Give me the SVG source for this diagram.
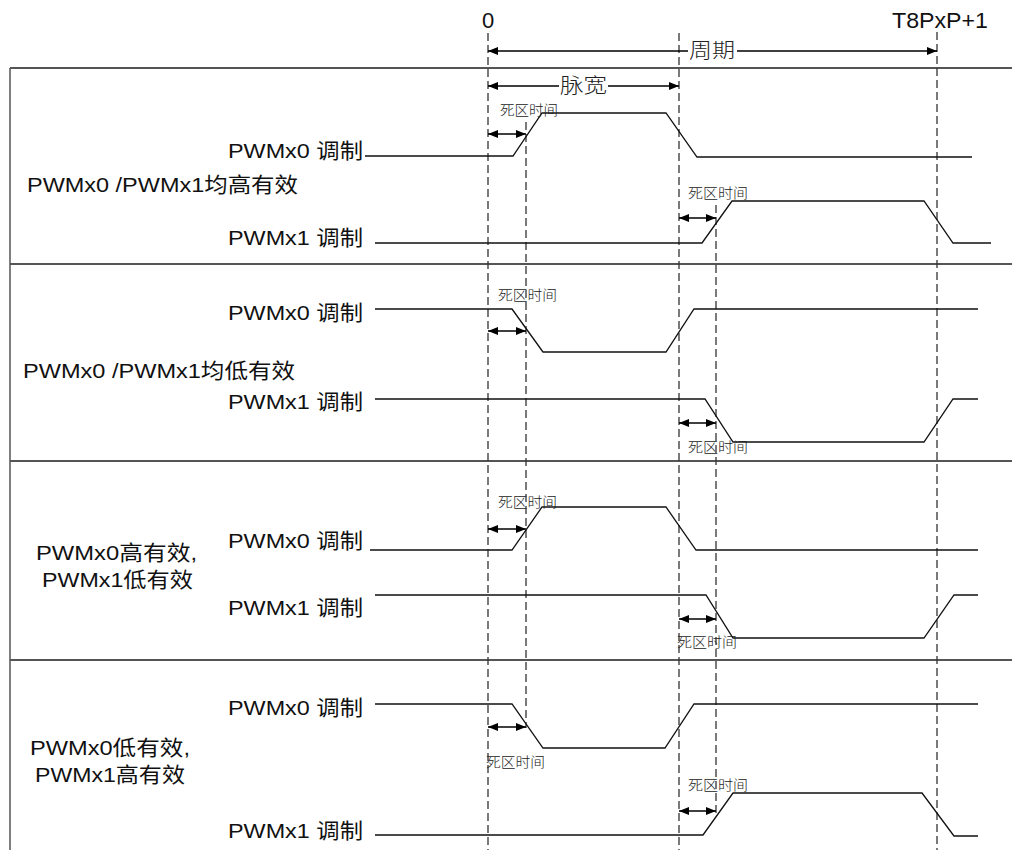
<svg xmlns="http://www.w3.org/2000/svg" width="1012" height="850" viewBox="0 0 1012 850">
<defs>
<marker id="ah" viewBox="0 0 10 8" refX="10" refY="4" markerWidth="10" markerHeight="8" markerUnits="userSpaceOnUse" orient="auto-start-reverse">
<path d="M0,0 L10,4 L0,8 z" fill="#000"/>
</marker>
<style>
.bg{fill:#fff}
.frame{stroke:#555;stroke-width:2;fill:none}
.edge{stroke:#555;stroke-width:1.5;fill:none}
.dash{stroke:#333;stroke-width:1.3;stroke-dasharray:8 4;fill:none}
.sig{stroke:#111;stroke-width:1.3;fill:none;stroke-linejoin:miter}
.dim{stroke:#000;stroke-width:1.3;fill:none}
.arr{stroke:#000;stroke-width:1.6;fill:none;marker-start:url(#ah);marker-end:url(#ah)}
.lbl{font-family:"Liberation Sans","Noto Sans CJK SC",sans-serif;font-size:21px;fill:#111}
.top{font-family:"Liberation Sans",sans-serif;font-size:22px;fill:#111}
.cjk{font-family:"Noto Sans CJK SC",sans-serif;font-size:20px;fill:#222;font-weight:300}
.dt{font-family:"Noto Sans CJK SC",sans-serif;font-size:14px;fill:#222;font-weight:300}
</style>
</defs>
<rect class="bg" x="0" y="0" width="1012" height="850"/>

<g id="frames">
<line class="frame" x1="10" y1="68" x2="1012" y2="68"/>
<line class="frame" x1="10" y1="264" x2="1012" y2="264"/>
<line class="frame" x1="10" y1="461" x2="1012" y2="461"/>
<line class="frame" x1="10" y1="660" x2="1012" y2="660"/>
<line class="edge" x1="10" y1="68" x2="10" y2="850"/>
</g>

<g id="timeline">
<line class="dash" x1="488" y1="33" x2="488" y2="850"/>
<line class="dash" x1="679" y1="33" x2="679" y2="850"/>
<line class="dash" x1="937" y1="32" x2="937" y2="850"/>
<line class="dash" x1="526" y1="122" x2="526" y2="728"/>
<line class="dash" x1="716" y1="205" x2="716" y2="813"/>
<text class="top" x="488" y="28" text-anchor="middle">0</text>
<text class="top" x="892" y="28" textLength="96" lengthAdjust="spacingAndGlyphs">T8PxP+1</text>
</g>

<g id="connectors">
<line class="dim" x1="488" y1="51" x2="688" y2="51" marker-start="url(#ah)"/>
<line class="dim" x1="737" y1="51" x2="937" y2="51" marker-end="url(#ah)"/>
<text class="cjk" x="689" y="58" textLength="46" lengthAdjust="spacingAndGlyphs">周期</text>
<line class="dim" x1="488" y1="86" x2="559" y2="86" marker-start="url(#ah)"/>
<line class="dim" x1="608" y1="86" x2="679" y2="86" marker-end="url(#ah)"/>
<text class="cjk" x="560" y="93" textLength="47" lengthAdjust="spacingAndGlyphs">脉宽</text>

<line class="arr" x1="488" y1="134" x2="526" y2="134"/>
<line class="arr" x1="679" y1="218" x2="716" y2="218"/>
<line class="arr" x1="488" y1="331" x2="526" y2="331"/>
<line class="arr" x1="679" y1="423" x2="716" y2="423"/>
<line class="arr" x1="488" y1="529" x2="526" y2="529"/>
<line class="arr" x1="679" y1="619" x2="716" y2="619"/>
<line class="arr" x1="488" y1="727" x2="526" y2="727"/>
<line class="arr" x1="679" y1="811" x2="716" y2="811"/>
</g>

<g id="panel-1">
<text class="lbl" x="228" y="158" textLength="135" lengthAdjust="spacingAndGlyphs">PWMx0 调制</text>
<text class="lbl" x="27" y="192" textLength="271" lengthAdjust="spacingAndGlyphs">PWMx0 /PWMx1均高有效</text>
<text class="lbl" x="228" y="245" textLength="135" lengthAdjust="spacingAndGlyphs">PWMx1 调制</text>
<polyline class="sig" points="365,156 513,156 542,113 666,113 697,157 972,157"/>
<polyline class="sig" points="375,243 702,243 732,201 924,201 953,243 991,243"/>
<text class="dt" x="500" y="115" textLength="58" lengthAdjust="spacingAndGlyphs">死区时间</text>
<text class="dt" x="688" y="198" textLength="60" lengthAdjust="spacingAndGlyphs">死区时间</text>
</g>

<g id="panel-2">
<text class="lbl" x="228" y="320" textLength="135" lengthAdjust="spacingAndGlyphs">PWMx0 调制</text>
<text class="lbl" x="23" y="378" textLength="272" lengthAdjust="spacingAndGlyphs">PWMx0 /PWMx1均低有效</text>
<text class="lbl" x="228" y="409" textLength="135" lengthAdjust="spacingAndGlyphs">PWMx1 调制</text>
<polyline class="sig" points="375,309 512,309 543,352 666,352 694,309 978,309"/>
<polyline class="sig" points="375,399 705,399 733,442 924,442 953,399 978,399"/>
<text class="dt" x="498" y="300" textLength="59" lengthAdjust="spacingAndGlyphs">死区时间</text>
<text class="dt" x="688" y="452" textLength="60" lengthAdjust="spacingAndGlyphs">死区时间</text>
</g>

<g id="panel-3">
<text class="lbl" x="228" y="548" textLength="135" lengthAdjust="spacingAndGlyphs">PWMx0 调制</text>
<text class="lbl" x="36" y="560" textLength="161" lengthAdjust="spacingAndGlyphs">PWMx0高有效,</text>
<text class="lbl" x="42" y="587" textLength="151" lengthAdjust="spacingAndGlyphs">PWMx1低有效</text>
<text class="lbl" x="228" y="615" textLength="135" lengthAdjust="spacingAndGlyphs">PWMx1 调制</text>
<polyline class="sig" points="370,550 512,550 542,507 666,507 696,550 978,550"/>
<polyline class="sig" points="375,595 706,595 733,638 924,638 954,595 978,595"/>
<text class="dt" x="498" y="507" textLength="59" lengthAdjust="spacingAndGlyphs">死区时间</text>
<text class="dt" x="677" y="647" textLength="60" lengthAdjust="spacingAndGlyphs">死区时间</text>
</g>

<g id="panel-4">
<text class="lbl" x="228" y="715" textLength="135" lengthAdjust="spacingAndGlyphs">PWMx0 调制</text>
<text class="lbl" x="30" y="755" textLength="160" lengthAdjust="spacingAndGlyphs">PWMx0低有效,</text>
<text class="lbl" x="35" y="782" textLength="150" lengthAdjust="spacingAndGlyphs">PWMx1高有效</text>
<text class="lbl" x="228" y="838" textLength="135" lengthAdjust="spacingAndGlyphs">PWMx1 调制</text>
<polyline class="sig" points="375,704 512,704 543,748 665,748 694,704 978,704"/>
<polyline class="sig" points="375,835 703,835 733,793 922,793 954,836 978,836"/>
<text class="dt" x="486" y="767" textLength="59" lengthAdjust="spacingAndGlyphs">死区时间</text>
<text class="dt" x="688" y="790" textLength="60" lengthAdjust="spacingAndGlyphs">死区时间</text>
</g>
</svg>
